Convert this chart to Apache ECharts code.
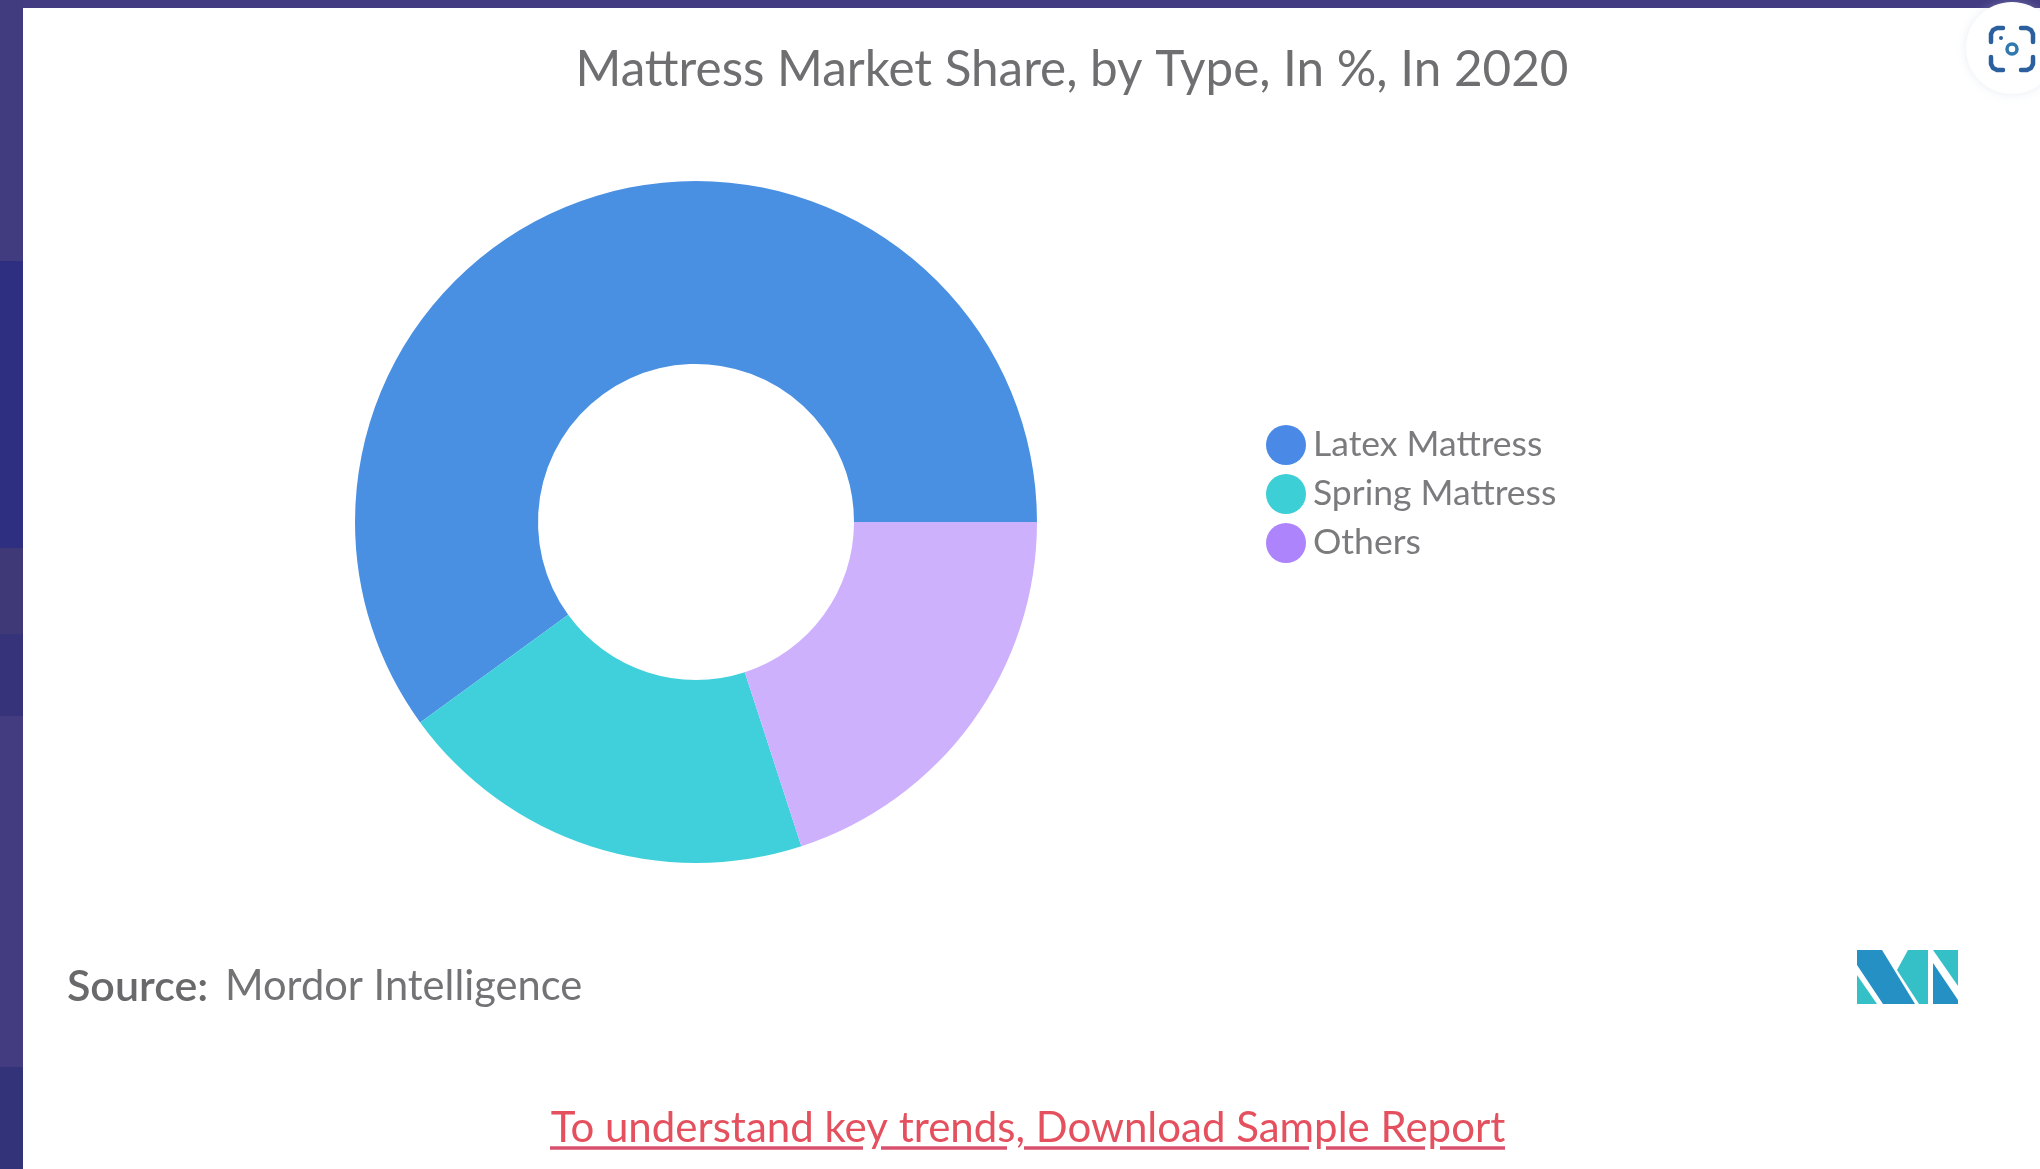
<!DOCTYPE html>
<html>
<head>
<meta charset="utf-8">
<title>Mattress Market Share</title>
<style>
  html, body { margin: 0; padding: 0; background: #433c82; }
  #chart { width: 2040px; height: 1169px; }
</style>
<script src="https://cdn.jsdelivr.net/npm/echarts@6/dist/echarts.min.js"></script>
</head>
<body>
<div id="chart"></div>
<script>
// Market share by mattress type, percent, 2020
const categories = ['Latex Mattress', 'Spring Mattress', 'Others'];
const shares = [60, 20, 20];
const sliceColors = ['#4a90e2', '#40d0dc', '#cdb1fd'];
const legendColors = ['#4a8ae6', '#3ccfd6', '#ad84fb'];

const titleText = 'Mattress Market Share, by Type, In %, In 2020';
const sourceLabel = 'Source:';
const sourceName = 'Mordor Intelligence';
const linkText = 'To understand key trends, Download Sample Report';

const fontFamily = 'Lato, "Open Sans", sans-serif';
const grey = '#6f6f72';
const linkRed = '#e5505f';

const chart = echarts.init(document.getElementById('chart'), null, { renderer: 'canvas' });

// Underline runs broken where descenders cross the rule
const underlineRuns = [[550, 863], [881, 1007], [1024, 1309], [1326, 1425], [1440, 1505]];

// Colour bands of the page behind the white panel
const backdropBands = [
  [0, 261, '#413b80'], [261, 548, '#2e2f80'], [548, 634, '#403978'],
  [634, 716, '#37337a'], [716, 1067, '#433c80'], [1067, 1169, '#33337a']
];

// Corner brackets of the badge glyph
const badgeCorners = [
  [[1991, 42], [1991, 34], [1993, 30], [1997, 28], [2003, 28]],
  [[2021, 28], [2027, 28], [2031, 30], [2033, 34], [2033, 42]],
  [[1991, 57], [1991, 64], [1993, 68], [1997, 70], [2003, 70]],
  [[2033, 57], [2033, 64], [2031, 68], [2027, 70], [2021, 70]]
];

const graphicElements = [
  ...backdropBands.map(([a, b, c]) => ({ type: 'rect', z: -11, shape: { x: 0, y: a, width: 23, height: b - a }, style: { fill: c } })),
  { type: 'rect', z: -10, shape: { x: 23, y: 8, width: 2017, height: 1161 }, style: { fill: '#ffffff' } },
  { type: 'circle', z: 1, shape: { cx: 2012, cy: 48, r: 46 },
    style: { fill: '#ffffff', shadowBlur: 10, shadowColor: 'rgba(190,200,225,0.35)' } },
  ...badgeCorners.map(points => ({ type: 'polyline', z: 2, shape: { points },
    style: { fill: null, stroke: '#2b5f9e', lineWidth: 4.5, lineCap: 'round', lineJoin: 'round' } })),
  { type: 'circle', z: 2, shape: { cx: 2012, cy: 49, r: 5 },
    style: { fill: '#ffffff', stroke: '#2f78b0', lineWidth: 3.5 } },
  { type: 'circle', z: 2, shape: { cx: 2001, cy: 38, r: 2 }, style: { fill: '#2b5f9e' } },

  { type: 'text', z: 3, style: { x: 67, y: 987, text: sourceLabel, fill: '#69696b', textVerticalAlign: 'middle',
      font: '600 43px ' + fontFamily } },
  { type: 'text', z: 3, style: { x: 225, y: 987, text: sourceName, fill: '#737376', textVerticalAlign: 'middle',
      font: '400 41.6px ' + fontFamily } },
  { type: 'text', z: 3, style: { x: 1028, y: 1128, text: linkText, fill: linkRed, textAlign: 'center', textVerticalAlign: 'middle',
      font: '400 42px ' + fontFamily } },
  ...underlineRuns.map(([a, b]) => ({ type: 'line', z: 3, shape: { x1: a, y1: 1148, x2: b, y2: 1148 },
    style: { stroke: '#d9506f', lineWidth: 3.5 } })),

  // Publisher mark
  { type: 'polygon', z: 3, shape: { points: [[1857, 950], [1882, 950], [1915, 1004], [1883, 1004], [1857, 965]] }, style: { fill: '#2490c4' } },
  { type: 'polygon', z: 3, shape: { points: [[1857, 975], [1877, 1004], [1857, 1004]] }, style: { fill: '#35c0c8' } },
  { type: 'polygon', z: 3, shape: { points: [[1908, 950], [1928, 950], [1928, 1004], [1919, 1004], [1897, 970]] }, style: { fill: '#35c0c8' } },
  { type: 'polygon', z: 3, shape: { points: [[1933, 950], [1958, 950], [1958, 986]] }, style: { fill: '#35c0c8' } },
  { type: 'polygon', z: 3, shape: { points: [[1933, 963], [1958, 1000], [1958, 1004], [1933, 1004]] }, style: { fill: '#2490c4' } }
];

chart.setOption({
  animation: false,
  backgroundColor: 'transparent',
  title: {
    text: titleText,
    left: 1067, top: 41, textAlign: 'center',
    textStyle: { color: grey, fontFamily, fontWeight: 400, fontSize: 49.4 }
  },
  legend: {
    orient: 'vertical',
    left: 1261, top: 420,
    itemWidth: 40, itemHeight: 40, itemGap: 9,
    icon: 'circle',
    data: categories.map((name, i) => ({ name, itemStyle: { color: legendColors[i] } })),
    textStyle: { color: '#7b7b7e', fontFamily, fontSize: 35.5, padding: [0, 0, 0, 2] }
  },
  series: [{
    type: 'pie',
    center: [696, 522],
    radius: [158, 341],
    startAngle: 0,
    clockwise: false,
    label: { show: false },
    labelLine: { show: false },
    silent: true,
    data: categories.map((name, i) => ({ name, value: shares[i], itemStyle: { color: sliceColors[i] } }))
  }],
  graphic: { elements: graphicElements }
});
</script>
</body>
</html>
